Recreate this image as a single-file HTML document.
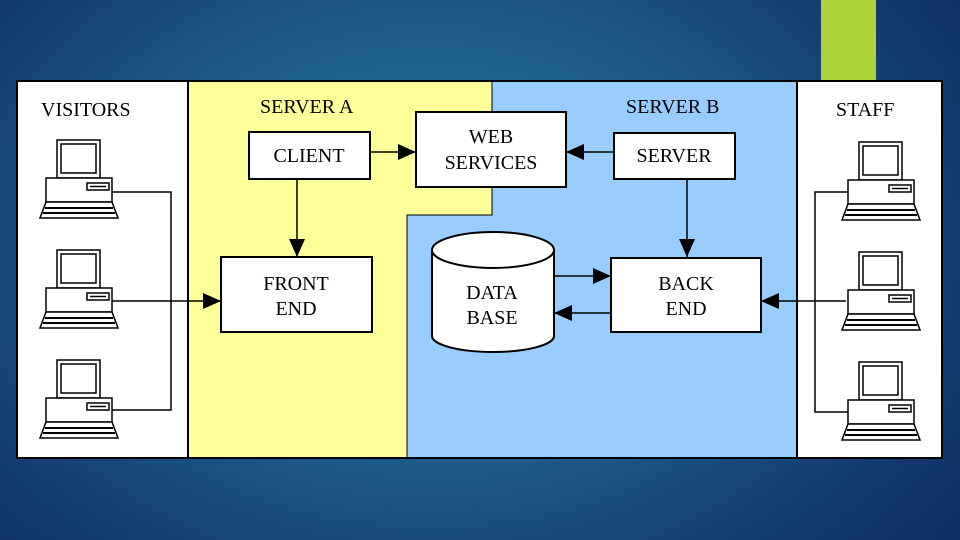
<!DOCTYPE html>
<html><head><meta charset="utf-8"><style>
html,body{margin:0;padding:0;width:960px;height:540px;overflow:hidden}
body{background:radial-gradient(ellipse 70% 90% at 45% 45%,#2a7aa0 0%,#1d5a8a 45%,#123a70 80%,#0e2d62 100%)}
svg{position:absolute;left:0;top:0}
text{font-family:"Liberation Serif",serif;font-size:20px;fill:#000}
</style></head><body>
<svg width="960" height="540" viewBox="0 0 960 540">
<defs>
<g id="pc" fill="#fff" stroke="#000" stroke-width="1.5">
<rect x="17" y="0" width="43" height="38"/>
<rect x="21" y="4" width="35" height="29"/>
<rect x="6" y="38" width="66" height="24"/>
<rect x="47" y="43" width="22" height="7"/>
<line x1="50" y1="46.5" x2="66" y2="46.5"/>
<polygon points="6,62 72,62 78,78 0,78"/>
<line x1="5" y1="68" x2="73" y2="68" stroke-width="2"/>
<line x1="3" y1="73" x2="75" y2="73" stroke-width="2"/>
</g>
<marker id="ab" markerWidth="18" markerHeight="16" refX="18" refY="8" orient="auto" markerUnits="userSpaceOnUse"><path d="M0,0 L18,8 L0,16 z" fill="#000"/></marker>
</defs>
<rect x="821" y="0" width="55" height="82" fill="#acd43a"/>
<rect x="17" y="81" width="925" height="377" fill="#fff" stroke="#000" stroke-width="2"/>
<polygon points="188,82 492,82 492,215 407,215 407,457 188,457" fill="#ffff99"/>
<polygon points="492,82 797,82 797,457 407,457 407,215 492,215" fill="#99ccff"/>
<polyline points="492,82 492,215 407,215 407,458" fill="none" stroke="#000" stroke-width="1"/>
<line x1="188" y1="81" x2="188" y2="458" stroke="#000" stroke-width="2"/>
<line x1="797" y1="81" x2="797" y2="458" stroke="#000" stroke-width="2"/>
<rect x="17" y="81" width="925" height="377" fill="none" stroke="#000" stroke-width="2"/>
<text x="41" y="116">VISITORS</text>
<text x="260" y="113">SERVER A</text>
<text x="626" y="113">SERVER B</text>
<text x="836" y="116">STAFF</text>
<use href="#pc" x="40" y="140"/><use href="#pc" x="40" y="250"/><use href="#pc" x="40" y="360"/>
<use href="#pc" x="842" y="142"/><use href="#pc" x="842" y="252"/><use href="#pc" x="842" y="362"/>
<g stroke="#000" stroke-width="1.5" fill="none">
<polyline points="112,192 171,192 171,410 112,410"/>
<line x1="112" y1="301" x2="221" y2="301" marker-end="url(#ab)"/>
<polyline points="848,192 815,192 815,412 848,412"/>
<line x1="846" y1="301" x2="761" y2="301" marker-end="url(#ab)"/>
<line x1="370" y1="152" x2="416" y2="152" marker-end="url(#ab)"/>
<line x1="614" y1="152" x2="566" y2="152" marker-end="url(#ab)"/>
<line x1="297" y1="179" x2="297" y2="257" marker-end="url(#ab)"/>
<line x1="687" y1="179" x2="687" y2="257" marker-end="url(#ab)"/>
<line x1="554" y1="276" x2="611" y2="276" marker-end="url(#ab)"/>
<line x1="611" y1="313" x2="554" y2="313" marker-end="url(#ab)"/>
</g>
<g fill="#fff" stroke="#000" stroke-width="2">
<rect x="249" y="132" width="121" height="47"/>
<rect x="221" y="257" width="151" height="75"/>
<rect x="416" y="112" width="150" height="75"/>
<rect x="614" y="133" width="121" height="46"/>
<rect x="611" y="258" width="150" height="74"/>
<path d="M432,250 L432,336 A61,16 0 0 0 554,336 L554,250 A61,18 0 0 0 432,250 A61,18 0 0 0 554,250"/>
</g>
<text x="309" y="162" text-anchor="middle">CLIENT</text>
<text x="296" y="290" text-anchor="middle">FRONT</text>
<text x="296" y="315" text-anchor="middle">END</text>
<text x="491" y="143" text-anchor="middle">WEB</text>
<text x="491" y="169" text-anchor="middle">SERVICES</text>
<text x="674" y="162" text-anchor="middle">SERVER</text>
<text x="686" y="290" text-anchor="middle">BACK</text>
<text x="686" y="315" text-anchor="middle">END</text>
<text x="492" y="299" text-anchor="middle">DATA</text>
<text x="492" y="324" text-anchor="middle">BASE</text>
</svg>
</body></html>
